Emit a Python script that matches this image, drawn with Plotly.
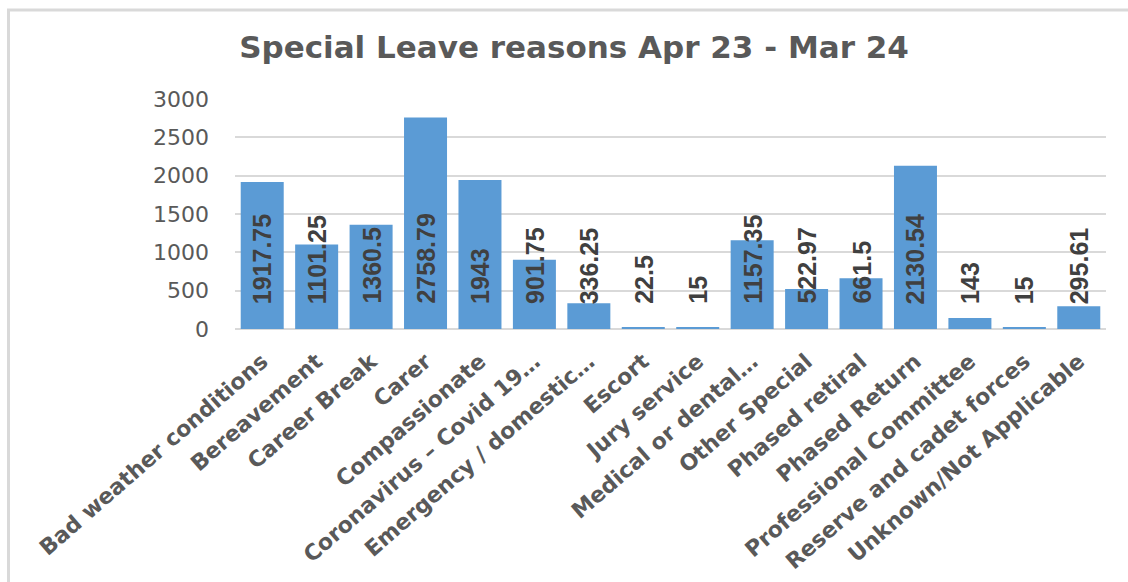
import plotly.graph_objects as go

# Special leave hours by reason, Apr 23 - Mar 24
reasons = [
    "Bad weather conditions",
    "Bereavement",
    "Career Break",
    "Carer",
    "Compassionate",
    "Coronavirus – Covid 19…",
    "Emergency / domestic…",
    "Escort",
    "Jury service",
    "Medical or dental…",
    "Other Special",
    "Phased retiral",
    "Phased Return",
    "Professional Committee",
    "Reserve and cadet forces",
    "Unknown/Not Applicable",
]
hours = [1917.75, 1101.25, 1360.5, 2758.79, 1943, 901.75, 336.25, 22.5,
         15, 1157.35, 522.97, 661.5, 2130.54, 143, 15, 295.61]
label_text = ["1917.75", "1101.25", "1360.5", "2758.79", "1943", "901.75",
              "336.25", "22.5", "15", "1157.35", "522.97", "661.5",
              "2130.54", "143", "15", "295.61"]
y_ticks = [0, 500, 1000, 1500, 2000, 2500, 3000]

W, H = 1128, 582
ML, MR, MT, MB = 235, 22, 99, 253
PW, PH = W - ML - MR, H - MT - MB

GREY = "#595959"
GRID = "#d9d9d9"
BAR = "#5b9bd5"


def px_x(p):
    return (p - ML) / PW


def px_y(p):
    return (H - MB - p) / PH


fig = go.Figure(
    go.Bar(
        x=reasons,
        y=hours,
        marker=dict(color=BAR, line=dict(width=0)),
        hoverinfo="x+y",
    )
)

# value labels, reading upward from the base of each bar
for name, val, txt in zip(reasons, hours, label_text):
    fig.add_annotation(
        x=name, y=0, xref="x", yref="y",
        text=txt, showarrow=False, textangle=-90,
        xanchor="center", yanchor="bottom", yshift=24, borderpad=0,
        font=dict(family="Liberation Sans, Arial, sans-serif",
                  size=25, color="#404040", weight="bold"),
    )

# chart frame
fig.add_shape(
    type="rect", xref="paper", yref="paper",
    x0=px_x(8.5), x1=px_x(1140), y0=px_y(595), y1=px_y(10),
    line=dict(color=GRID, width=3), fillcolor="rgba(0,0,0,0)", layer="below",
)

fig.update_layout(
    width=W, height=H,
    margin=dict(l=ML, r=MR, t=MT, b=MB, pad=0, autoexpand=False),
    paper_bgcolor="white", plot_bgcolor="white",
    bargap=0.21,
    showlegend=False,
    title=dict(
        text="Special Leave reasons Apr 23 - Mar 24",
        x=574 / W, xref="container", xanchor="center",
        y=1 - 47 / H, yref="container", yanchor="middle",
        font=dict(family="DejaVu Sans", size=31, color=GREY, weight="bold"),
    ),
    xaxis=dict(
        type="category",
        tickangle=-41,
        automargin=False,
        tickfont=dict(family="DejaVu Sans", size=22, color=GREY, weight="bold"),
        showgrid=False, showline=True, linecolor=GRID, linewidth=1,
        ticks="", ticklabelstandoff=10,
    ),
    yaxis=dict(
        range=[0, 3000],
        automargin=False,
        tickvals=y_ticks,
        ticktext=[str(v) for v in y_ticks],
        tickfont=dict(family="DejaVu Sans", size=22, color=GREY),
        showgrid=True, gridcolor=GRID, gridwidth=1.5,
        zeroline=True, zerolinecolor=GRID, zerolinewidth=1.5,
        showline=False, ticks="", ticklabelstandoff=25,
    ),
)

fig.write_html("out.html")
